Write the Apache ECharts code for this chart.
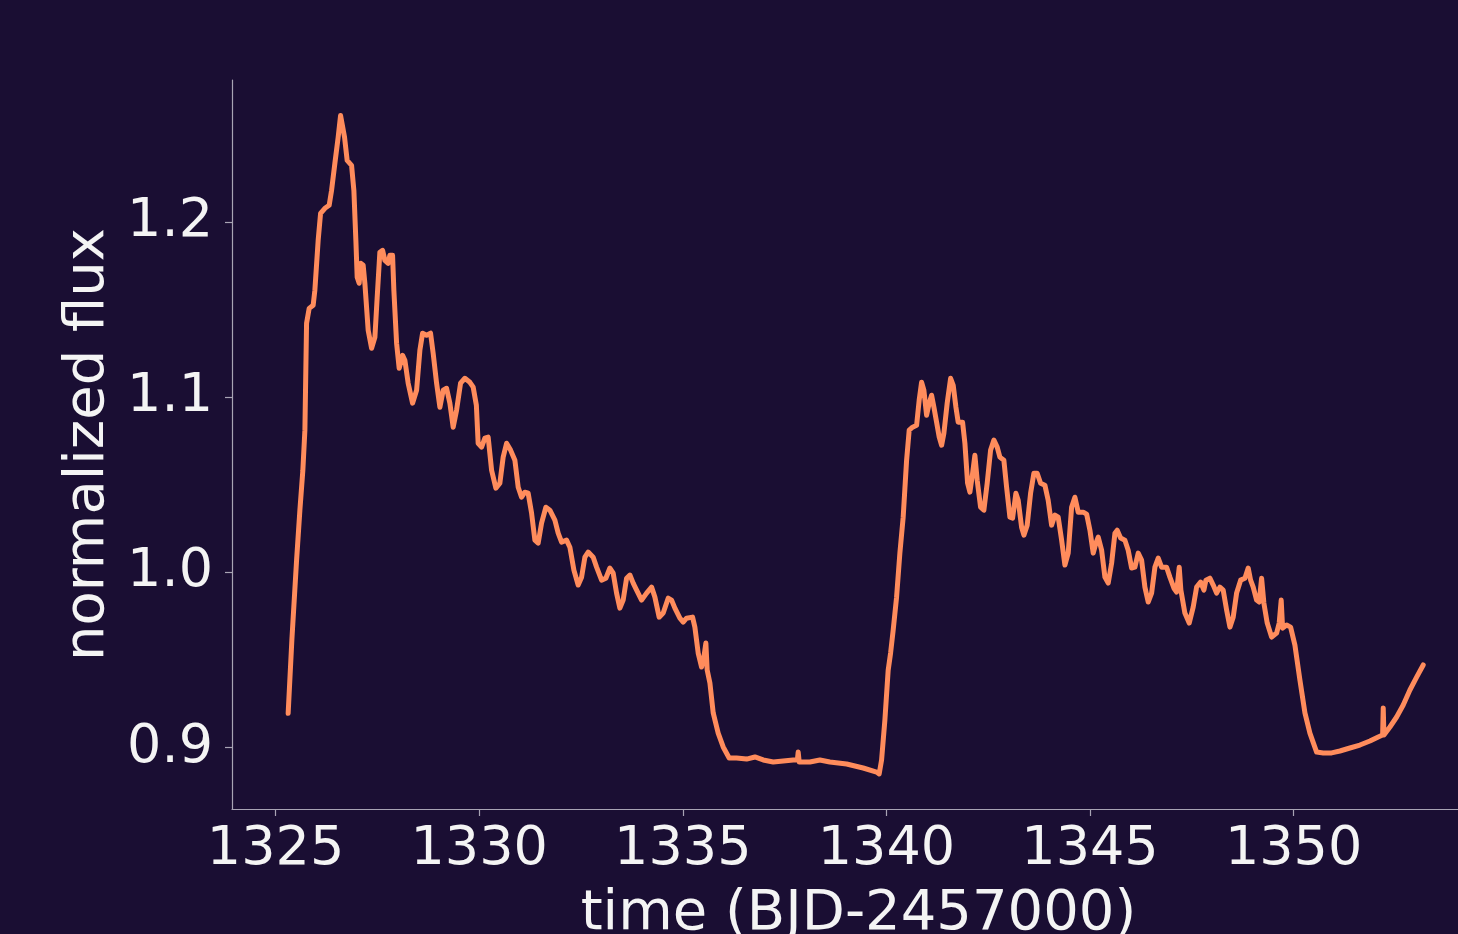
<!DOCTYPE html>
<html>
<head>
<meta charset="utf-8">
<script src="https://cdn.jsdelivr.net/npm/echarts@6/dist/echarts.min.js"></script>
<style>
html,body{margin:0;padding:0;background:#1a0e33;overflow:hidden;}
#c{width:1458px;height:934px;}
</style>
</head>
<body>
<div id="c"></div>
<script>
// time (BJD-2457000)
const time = [
1325.309,1325.400,1325.516,1325.597,1325.670,1325.720,1325.761,1325.825,1325.923,1325.965,
1326.046,1326.105,1326.211,1326.316,1326.375,1326.456,1326.537,1326.596,1326.645,1326.694,
1326.758,1326.866,1326.923,1326.972,1327.004,1327.053,1327.095,1327.151,1327.193,1327.274,
1327.358,1327.439,1327.495,1327.561,1327.628,1327.684,1327.765,1327.807,1327.873,1327.905,
1327.972,1328.035,1328.119,1328.175,1328.256,1328.364,1328.463,1328.544,1328.610,1328.708,
1328.806,1328.870,1328.954,1329.035,1329.116,1329.199,1329.280,1329.361,1329.445,1329.543,
1329.649,1329.772,1329.853,1329.931,1329.975,1330.059,1330.140,1330.221,1330.305,1330.410,
1330.508,1330.589,1330.673,1330.771,1330.877,1330.958,1331.041,1331.122,1331.203,1331.287,
1331.368,1331.449,1331.532,1331.638,1331.736,1331.859,1331.940,1332.024,1332.146,1332.227,
1332.326,1332.431,1332.515,1332.596,1332.677,1332.800,1332.883,1333.006,1333.111,1333.210,
1333.291,1333.374,1333.455,1333.536,1333.620,1333.701,1333.782,1333.866,1333.988,1334.111,
1334.234,1334.315,1334.420,1334.519,1334.641,1334.725,1334.806,1334.929,1335.010,1335.093,
1335.240,1335.297,1335.378,1335.462,1335.518,1335.567,1335.599,1335.666,1335.747,1335.869,
1335.992,1336.139,1336.321,1336.567,1336.771,1336.975,1337.220,1337.466,1337.711,1337.814,
1337.834,1337.859,1338.121,1338.367,1338.612,1339.023,1339.430,1339.759,1339.823,1339.882,
1339.963,1340.044,1340.103,1340.167,1340.250,1340.331,1340.412,1340.496,1340.560,1340.643,
1340.742,1340.805,1340.864,1340.921,1340.987,1341.051,1341.110,1341.167,1341.233,1341.297,
1341.356,1341.412,1341.493,1341.577,1341.641,1341.707,1341.763,1341.871,1341.928,1341.994,
1342.051,1342.117,1342.173,1342.230,1342.313,1342.394,1342.475,1342.559,1342.640,1342.721,
1342.787,1342.885,1342.952,1343.033,1343.099,1343.180,1343.237,1343.320,1343.377,1343.458,
1343.541,1343.622,1343.703,1343.787,1343.892,1343.973,1344.057,1344.138,1344.219,1344.303,
1344.384,1344.465,1344.548,1344.629,1344.710,1344.833,1344.917,1344.998,1345.079,1345.145,
1345.202,1345.285,1345.366,1345.447,1345.531,1345.612,1345.668,1345.752,1345.857,1345.938,
1346.022,1346.103,1346.184,1346.267,1346.348,1346.429,1346.513,1346.594,1346.675,1346.758,
1346.881,1346.962,1347.061,1347.127,1347.191,1347.232,1347.330,1347.436,1347.534,1347.618,
1347.716,1347.797,1347.846,1347.944,1348.026,1348.109,1348.190,1348.271,1348.355,1348.436,
1348.517,1348.600,1348.699,1348.804,1348.885,1348.944,1349.008,1349.091,1349.155,1349.214,
1349.270,1349.352,1349.460,1349.582,1349.646,1349.695,1349.730,1349.828,1349.926,1350.032,
1350.155,1350.278,1350.400,1350.565,1350.727,1350.933,1351.137,1351.383,1351.628,1351.874,
1352.078,1352.186,1352.201,1352.218,1352.365,1352.530,1352.692,1352.856,1353.021,1353.183
];
// normalized flux
const flux = [
0.9196,0.9614,1.0070,1.0355,1.0583,1.0812,1.1422,1.1507,1.1525,1.1610,
1.1895,1.2049,1.2078,1.2095,1.2180,1.2334,1.2483,1.2608,1.2608,1.2483,
1.2351,1.2323,1.2180,1.1895,1.1684,1.1650,1.1764,1.1753,1.1650,1.1382,
1.1279,1.1342,1.1570,1.1827,1.1838,1.1781,1.1764,1.1810,1.1810,1.1610,
1.1308,1.1165,1.1239,1.1211,1.1080,1.0966,1.1040,1.1268,1.1365,1.1353,
1.1365,1.1251,1.1080,1.0943,1.1040,1.1051,1.0966,1.0829,1.0926,1.1080,
1.1108,1.1085,1.1057,1.0954,1.0737,1.0715,1.0766,1.0772,1.0583,1.0481,
1.0509,1.0658,1.0737,1.0698,1.0640,1.0486,1.0429,1.0458,1.0452,1.0338,
1.0184,1.0167,1.0281,1.0372,1.0355,1.0298,1.0224,1.0173,1.0184,1.0144,
1.0013,0.9928,0.9973,1.0087,1.0116,1.0087,1.0030,0.9956,0.9967,1.0025,
0.9996,0.9882,0.9796,0.9842,0.9967,0.9985,0.9939,0.9899,0.9842,0.9882,
0.9916,0.9859,0.9745,0.9768,0.9853,0.9842,0.9796,0.9739,0.9717,0.9739,
0.9745,0.9688,0.9540,0.9460,0.9517,0.9597,0.9443,0.9369,0.9198,0.9083,
0.9004,0.8941,0.8941,0.8935,0.8947,0.8930,0.8918,0.8924,0.8930,0.8930,
0.8975,0.8918,0.8918,0.8930,0.8918,0.8907,0.8884,0.8861,0.8850,0.8930,
0.9158,0.9443,0.9540,0.9671,0.9859,1.0110,1.0315,1.0640,1.0812,1.0829,
1.0840,1.0983,1.1085,1.1040,1.0897,1.0966,1.1011,1.0943,1.0857,1.0772,
1.0726,1.0794,1.0966,1.1108,1.1068,1.0943,1.0857,1.0857,1.0737,1.0509,
1.0458,1.0566,1.0669,1.0526,1.0372,1.0355,1.0509,1.0698,1.0755,1.0715,
1.0658,1.0640,1.0486,1.0315,1.0310,1.0452,1.0412,1.0258,1.0213,1.0270,
1.0452,1.0566,1.0566,1.0509,1.0498,1.0412,1.0270,1.0327,1.0315,1.0184,
1.0042,1.0110,1.0372,1.0429,1.0344,1.0344,1.0333,1.0241,1.0110,1.0167,
1.0201,1.0127,0.9973,0.9939,1.0053,1.0224,1.0241,1.0196,1.0184,1.0127,
1.0025,1.0030,1.0110,1.0070,0.9916,0.9831,0.9882,1.0030,1.0082,1.0030,
1.0030,0.9973,0.9910,0.9888,1.0030,0.9899,0.9768,0.9711,0.9802,0.9916,
0.9945,0.9899,0.9956,0.9967,0.9928,0.9882,0.9916,0.9899,0.9785,0.9688,
0.9745,0.9882,0.9956,0.9967,1.0025,0.9956,0.9916,0.9842,0.9831,0.9967,
0.9825,0.9711,0.9631,0.9654,0.9711,0.9842,0.9682,0.9700,0.9688,0.9585,
0.9386,0.9198,0.9083,0.8975,0.8970,0.8970,0.8981,0.8998,0.9015,0.9038,
0.9061,0.9072,0.9227,0.9072,0.9118,0.9175,0.9243,0.9329,0.9403,0.9472
];
const xTicks = [1325, 1330, 1335, 1340, 1345, 1350];
const yTicks = [0.9, 1.0, 1.1, 1.2];

const data = time.map((t, i) => [t, flux[i]]);
const FONT = 'DejaVu Sans';
const TXT = '#f4f4f4';
const AX = '#a8a4b4';

const chart = echarts.init(document.getElementById('c'));
chart.setOption({
  backgroundColor: '#1a0e33',
  animation: false,
  grid: { left: 232, top: 80, height: 729, width: 1253, containLabel: false, outerBoundsMode: 'none' },
  xAxis: {
    type: 'value',
    min: 1323.93,
    max: 1354.70,
    name: 'time (BJD-2457000)',
    nameLocation: 'middle',
    nameGap: 77,
    nameTextStyle: { color: TXT, fontFamily: FONT, fontSize: 56 },
    axisLine: { show: true, lineStyle: { color: AX, width: 1.2 } },
    axisTick: { show: true, length: 7, lineStyle: { color: AX, width: 1.2 }, customValues: xTicks },
    axisLabel: { color: TXT, fontFamily: FONT, fontSize: 54, margin: 14, customValues: xTicks,
      formatter: v => String(v) },
    splitLine: { show: false }
  },
  yAxis: {
    type: 'value',
    min: 0.865,
    max: 1.281,
    name: 'normalized flux',
    nameLocation: 'middle',
    nameGap: 112,
    nameTextStyle: { color: TXT, fontFamily: FONT, fontSize: 56 },
    axisLine: { show: true, lineStyle: { color: AX, width: 1.2 } },
    axisTick: { show: true, length: 7, lineStyle: { color: AX, width: 1.2 }, customValues: yTicks },
    axisLabel: { color: TXT, fontFamily: FONT, fontSize: 54, margin: 19, customValues: yTicks,
      formatter: v => v.toFixed(1) },
    splitLine: { show: false }
  },
  series: [{
    type: 'line',
    data: data,
    showSymbol: false,
    smooth: false,
    lineStyle: { color: '#ff8c5c', width: 5, join: 'round', cap: 'round' },
    itemStyle: { color: '#ff8c5c' }
  }]
});
</script>
</body>
</html>
